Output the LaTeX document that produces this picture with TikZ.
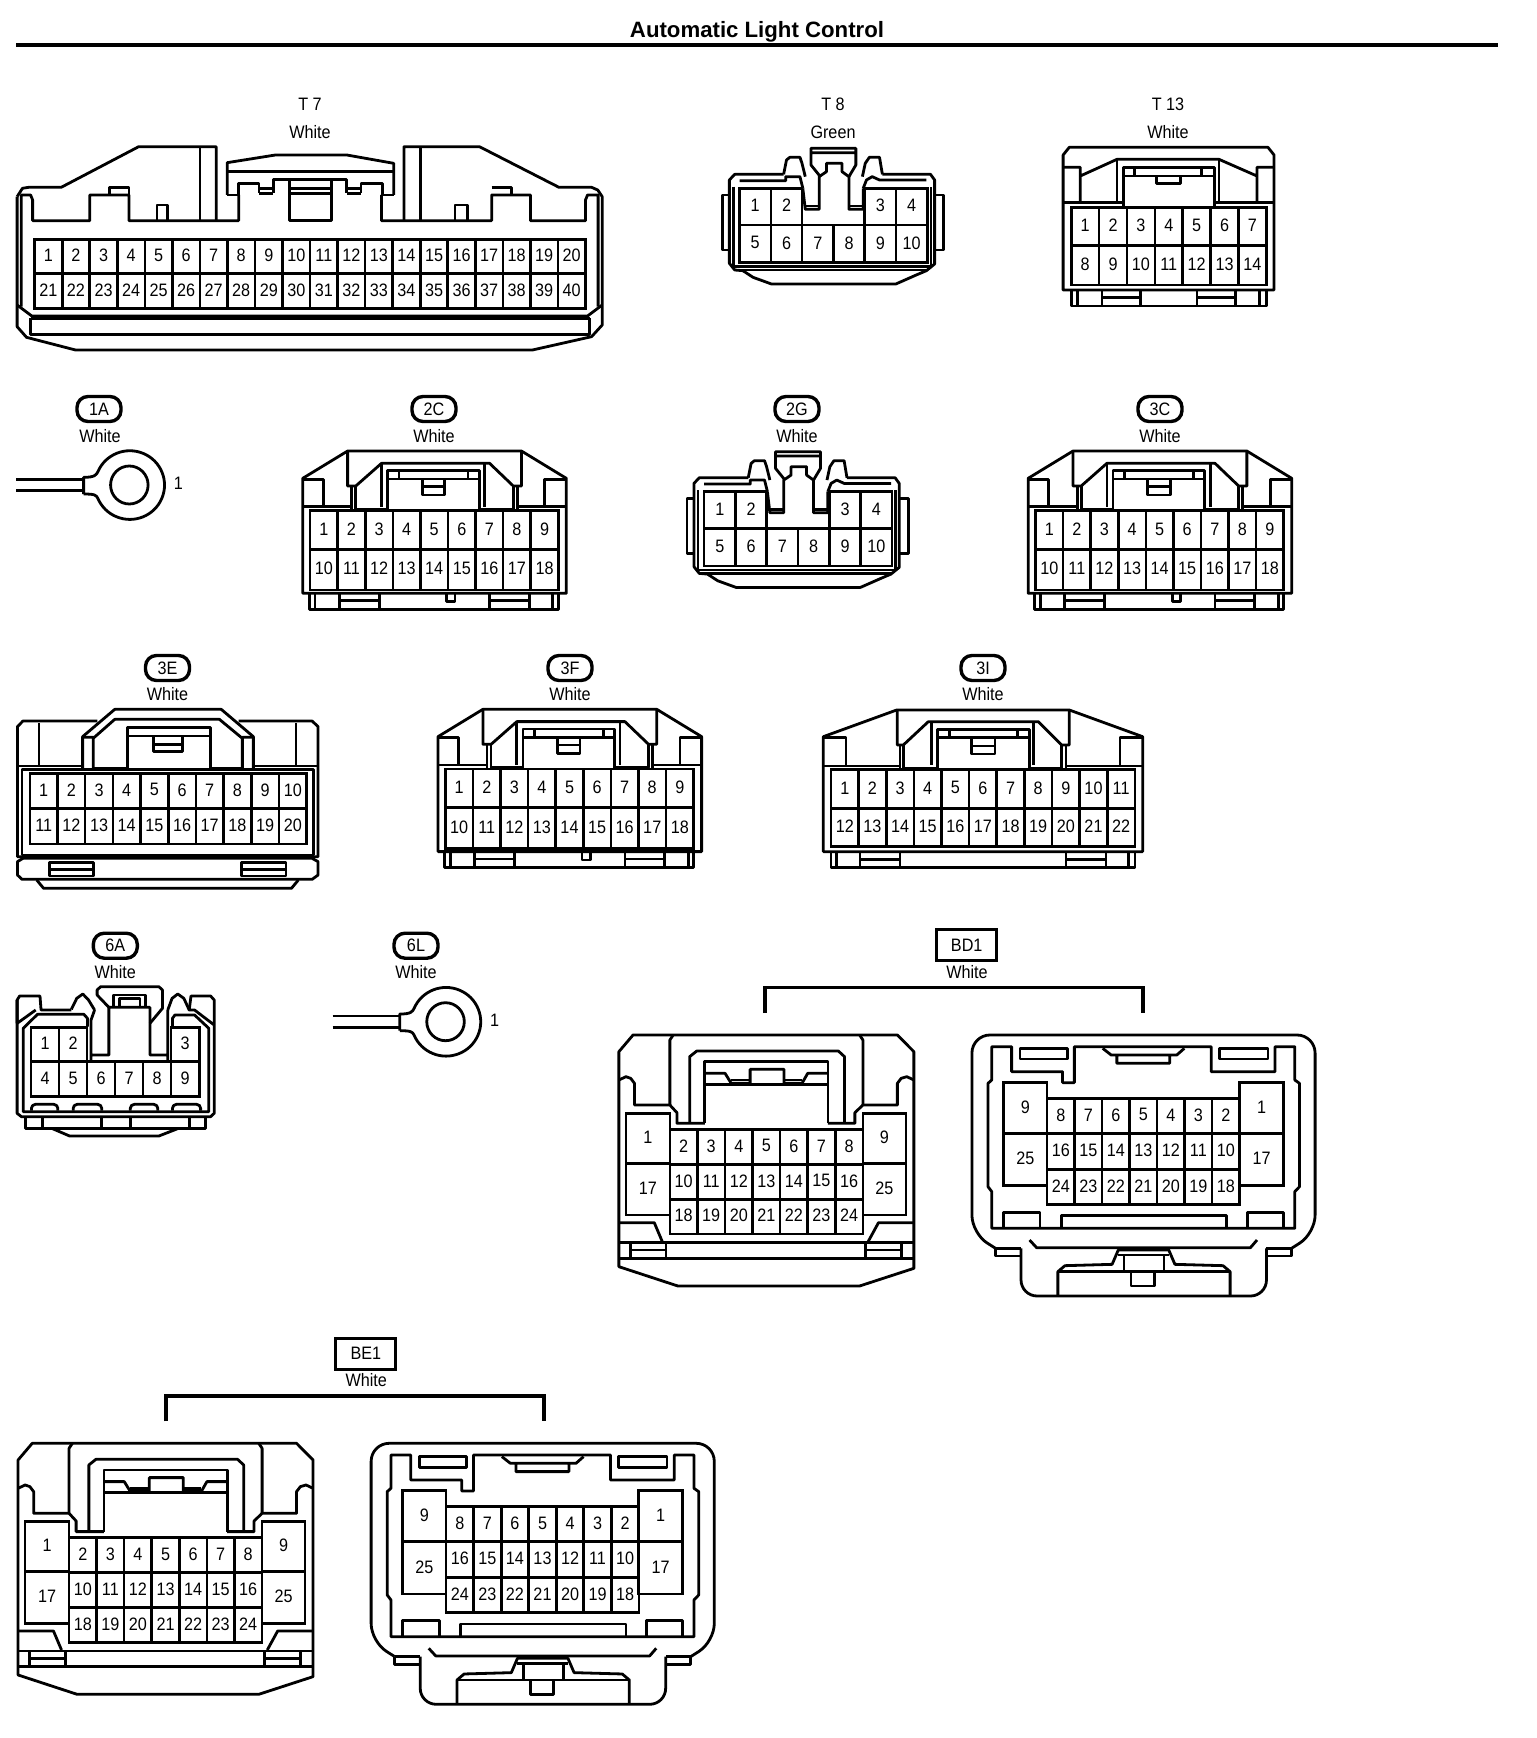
\documentclass[tikz,border=0pt]{standalone}
\usepackage{fontspec}
\setmainfont{Liberation Sans}
\newfontfamily\pinfont[FakeStretch=0.9]{Liberation Sans}
\usetikzlibrary{positioning, calc}

\tikzset{
  wall/.style={line width=1.4pt, line join=round},
  cellwall/.style={line width=1.3pt},
  pinlabel/.style={font=\pinfont\fontsize{9pt}{10pt}\selectfont, inner sep=0pt, yshift=.5pt},
  colourlabel/.style={font=\pinfont\fontsize{9pt}{10pt}\selectfont, inner sep=0pt, yshift=.5pt},
  codebubble/.style={draw, line width=1.7pt, rounded corners=5.5pt, minimum width=22pt, minimum height=12.5pt, inner sep=0pt, font=\pinfont\fontsize{9pt}{10pt}\selectfont},
  codebox/.style={draw, line width=1.5pt, minimum width=30pt, minimum height=15.5pt, inner sep=0pt, font=\pinfont\fontsize{9pt}{10pt}\selectfont},
  crop/.style n args={3}{shift={(#1,#2)},xscale=#3,yscale=1/3}
}

% name, x0, dx, ytop, ybot, first col, last col, first number, number step
\newcommand{\pinrun}[9]{
  \foreach \c in {#6,...,#7} {
    \pgfmathtruncatemacro{\pinnum}{#8+#9*(\c-#6)}
    \draw[cellwall] ({#2+\c*#3},#4) rectangle ({#2+(\c+1)*#3},#5);
    \node[pinlabel] (#1-\pinnum) at ({#2+(\c+.5)*#3},{(#4+#5)/2}) {\pinnum};
  }
}

% ring terminal
\newcommand{\ringlug}[1]{
  \begin{scope}[crop={0}{380}{.408}]
    \draw[wall] (40,298) -- (205,298) (40,332) -- (205,332);
    \draw[wall] (205,342) -- (205,292) .. controls (232,292) and (236,285) .. (240,275)
      arc[start angle=203, end angle=517, x radius=85, y radius=103]
      .. controls (236,345) and (232,342) .. (205,342);
    \draw[wall] (317,315) circle[x radius=46, y radius=57];
    \node[pinlabel] (#1-1) at (437,313) {1};
  \end{scope}
}

% 18 way body
\newcommand{\bodyeighteen}[1]{
  \begin{scope}[crop={0}{380}{.408}]
    \draw[wall] (742,295) -- (852,213) -- (1278,213) -- (1388,295) -- (1388,640) -- (742,640) -- cycle;
    \draw[wall] (852,213) -- (852,318) -- (872,318) -- (935,250) -- (1200,250) -- (1258,318) -- (1278,318) -- (1278,213);
    \draw[wall] (950,388) -- (872,388) -- (872,318) (1175,388) -- (1258,388) -- (1258,318);
    \draw[wall] (862,318) -- (862,392) (1268,318) -- (1268,392);
    \draw[wall] (742,298) -- (792,298) -- (792,378) (1388,298) -- (1335,298) -- (1335,378);
    \draw[wall] (742,380) -- (862,380) (1268,380) -- (1388,380);
    \draw[wall] (935,250) -- (935,380) (1188,250) -- (1188,380);
    \draw[wall] (950,388) -- (950,272) -- (1175,272) -- (1175,388);
    \draw[wall] (950,297) -- (1175,297) (978,272) -- (978,297) (1147,272) -- (1147,297);
    \draw[wall] (1035,297) -- (1035,345) -- (1090,345) -- (1090,297) (1035,320) -- (1090,320);
    \pinrun{#1}{760}{67.6}{392}{508}{0}{8}{1}{1}
    \pinrun{#1}{760}{67.6}{508}{630}{0}{8}{10}{1}
    \draw[wall] (758,640) -- (758,688) -- (1368,688) -- (1368,640);
    \draw[wall] (772,640) -- (772,688) (1355,640) -- (1355,688);
    \draw[wall] (832,640) -- (832,688) (930,640) -- (930,688) (832,662) -- (930,662);
    \draw[wall] (1200,640) -- (1200,688) (1297,640) -- (1297,688) (1200,662) -- (1297,662);
    \draw[wall] (1095,640) -- (1095,665) -- (1115,665) -- (1115,640);
  \end{scope}
}

% 10 way body with centre latch
\newcommand{\bodyten}[1]{
  \begin{scope}[crop={700}{80}{.408}]
    \draw[wall] (205,283) -- (85,283) -- (72,300) -- (72,550) -- (85,570) -- (105,572) -- (130,592) -- (175,612) -- (480,612) -- (530,585) -- (555,572) -- (575,552) -- (575,300) -- (565,283) -- (447,283);
    \draw[wall] (205,283) -- (212,240) -- (220,232) -- (245,232) -- (250,250) -- (258,290);
    \draw[wall] (398,290) -- (405,250) -- (415,232) -- (440,232) -- (447,283);
    \draw[wall] (82,320) -- (82,560) -- (566,560) -- (566,320) (85,570) -- (555,570);
    \draw[wall] (97,302) -- (210,302) -- (210,290) -- (245,290) -- (252,325) (400,325) -- (408,300) -- (422,290) -- (440,300) -- (555,300);
    \draw[wall] (252,325) -- (258,388) -- (292,388) -- (292,290) -- (310,275) -- (310,250) -- (348,250) -- (348,275) -- (365,290) -- (365,388) -- (400,388) -- (400,325);
    \draw[wall] (258,378) -- (292,378) (365,378) -- (400,378);
    \draw[wall] (295,290) -- (272,255) -- (272,205) -- (382,205) -- (382,255) -- (365,290) (272,218) -- (382,218);
    \draw[wall] (72,345) -- (55,345) -- (55,510) -- (72,510) (578,345) -- (597,345) -- (597,510) -- (578,510);
    \pinrun{#1}{97}{76.7}{325}{435}{0}{1}{1}{1}
    \pinrun{#1}{97}{76.7}{325}{435}{4}{5}{3}{1}
    \pinrun{#1}{97}{76.7}{435}{548}{0}{5}{5}{1}
  \end{scope}
}

% two halves of a 25 way connector with their bracket
\newcommand{\bodypair}[3]{
  \begin{scope}[crop={600}{920}{.472}]
    \draw[wall] (40,395) -- (40,1040) -- (165,1098) -- (550,1098) -- (665,1045) -- (665,395) -- (630,345) -- (70,345) -- cycle;
    \draw[wall] (40,480) -- (55,470) -- (65,475) -- (73,490) -- (73,555) -- (148,555) -- (163,578) -- (163,610) -- (222,610);
    \draw[wall] (665,480) -- (650,470) -- (638,475) -- (630,490) -- (630,555) -- (557,555) -- (540,578) -- (540,610) -- (483,610);
    \draw[wall] (155,345) -- (148,360) -- (148,555) (550,345) -- (557,360) -- (557,555);
    \draw[wall] (190,610) -- (190,410) -- (205,393) -- (505,393) -- (518,410) -- (518,610);
    \draw[wall] (222,610) -- (222,425) -- (483,425) -- (483,610);
    \draw[wall] (222,460) -- (265,460) -- (278,490) -- (318,490) -- (318,448) -- (390,448) -- (390,490) -- (428,490) -- (440,460) -- (483,460);
    \draw[wall] (222,493) -- (483,493) (278,480) -- (318,480) (390,480) -- (428,480);
    \pinrun{#1a}{55}{93}{580}{730}{0}{0}{1}{1}
    \pinrun{#1a}{55}{93}{730}{885}{0}{0}{17}{1}
    \pinrun{#1a}{557}{91}{580}{730}{0}{0}{9}{1}
    \pinrun{#1a}{557}{91}{730}{885}{0}{0}{25}{1}
    \pinrun{#1a}{148}{58.4}{628}{733}{0}{6}{2}{1}
    \pinrun{#1a}{148}{58.4}{733}{838}{0}{6}{10}{1}
    \pinrun{#1a}{148}{58.4}{838}{942}{0}{6}{18}{1}
    \draw[wall] (40,908) -- (115,908) -- (132,965) (665,908) -- (590,908) -- (568,965);
    \draw[wall] (40,968) -- (665,968) (40,1015) -- (665,1015);
    \draw[wall] (65,968) -- (65,1015) (140,968) -- (140,1015) (65,990) -- (140,990);
    \draw[wall] (638,968) -- (638,1015) (562,968) -- (562,1015) (562,990) -- (638,990);
    % mating half
    \draw[wall, rounded corners=9pt] (838,985) -- (788,940) -- (788,345) -- (1515,345) -- (1515,940) -- (1465,985);
    \draw[wall] (838,985) -- (838,1008) -- (892,1008) (1465,985) -- (1465,1008) -- (1412,1008) (838,985) -- (892,985) (1465,985) -- (1412,985);
    \draw[wall, rounded corners=8pt] (892,985) -- (892,1128) -- (1412,1128) -- (1412,985);
    \draw[wall] (830,925) -- (830,815) -- (822,800) -- (822,490) -- (830,480) -- (830,380) -- (872,380) -- (872,455) -- (980,455) -- (980,488) -- (1005,488) -- (1005,380) -- (1295,380) -- (1295,455) -- (1430,455) -- (1430,380) -- (1472,380) -- (1472,480) -- (1482,490) -- (1482,800) -- (1472,815) -- (1472,925) -- cycle;
    \draw[wall] (890,385) rectangle (990,417) (1312,385) rectangle (1415,417);
    \draw[wall] (1065,385) -- (1083,405) -- (1222,405) -- (1238,385) (1095,405) -- (1095,430) -- (1207,430) -- (1207,405);
    \pinrun{#1b}{855}{92}{487}{640}{0}{0}{9}{1}
    \pinrun{#1b}{855}{92}{640}{797}{0}{0}{25}{1}
    \pinrun{#1b}{1355}{93}{487}{640}{0}{0}{1}{1}
    \pinrun{#1b}{1355}{93}{640}{797}{0}{0}{17}{1}
    \pinrun{#1b}{947}{58.3}{535}{640}{0}{6}{8}{-1}
    \pinrun{#1b}{947}{58.3}{640}{748}{0}{6}{16}{-1}
    \pinrun{#1b}{947}{58.3}{748}{853}{0}{6}{24}{-1}
    \draw[wall] (855,925) -- (855,877) -- (932,877) -- (932,925) (1372,925) -- (1372,877) -- (1448,877) -- (1448,925);
    \draw[wall] (977,925) -- (977,887) -- (1328,887) -- (1328,925);
    \draw[wall] (910,960) -- (925,983) -- (1378,983) -- (1392,960);
    \draw[wall] (970,1128) -- (970,1055) -- (985,1037) -- (1085,1033) -- (1098,990) -- (1205,990) -- (1218,1033) -- (1320,1037) -- (1335,1055) -- (1335,1128);
    \draw[wall] (970,1055) -- (1335,1055) (1098,1005) -- (1205,1005) (1110,1005) -- (1110,1055) (1195,1005) -- (1195,1055);
    \draw[wall] (1125,1055) -- (1125,1098) -- (1175,1098) -- (1175,1055);
  \end{scope}
  \node[codebox] (#1) at (966.7,945.3) {#2};
  \node[colourlabel] (#1-colour) at (967,973) {White};
  \coordinate (#1-left) at (765+#3,1013);
  \coordinate (#1-right) at (1143+#3,1013);
  \draw[line width=1.7pt] (#1-left) -- ++(0,-25.3) -| (#1-right);
}

\begin{document}
\begin{tikzpicture}[x=0.5pt,y=-0.5pt]
  \useasboundingbox (0,0) rectangle (1536,1738);
  \node[font=\bfseries\fontsize{11.1pt}{12pt}\selectfont, inner sep=0pt] (title) at (757,32) {Automatic Light Control};
  \coordinate (rule-left) at (16,45);
  \coordinate (rule-right) at (1498,45);
  \draw[line width=1.8pt] (rule-left) -- (rule-right);

  % T 7
  \node[colourlabel] (T7-code) at (310,105) {T 7};
  \node[colourlabel] (T7-colour) at (310,133) {White};
  \begin{scope}[crop={0}{0}{.408}]
    \draw[wall] (42,590) -- (42,980) -- (65,1012) -- (185,1050) -- (1305,1050) -- (1450,1010) -- (1476,975) -- (1476,590) -- (1465,570) -- (1450,562) -- (1370,562) -- (1175,440) -- (990,440) -- (990,662);
    \draw[wall] (42,590) -- (55,565) -- (70,562) -- (150,562) -- (340,440) -- (530,440) -- (530,662);
    \draw[wall] (52,920) -- (52,585) -- (75,585) -- (80,600) -- (80,662) -- (220,662) -- (220,585) -- (316,585) -- (316,662) -- (585,662) -- (585,585);
    \draw[wall] (1466,920) -- (1466,585) -- (1440,585) -- (1435,600) -- (1435,662) -- (1300,662) -- (1300,585) -- (1205,585) -- (1205,662) -- (935,662) -- (935,585);
    \draw[wall] (268,585) -- (268,562) -- (316,562) -- (316,585) (1205,562) -- (1253,562) -- (1253,585);
    \draw[wall] (385,662) -- (385,615) -- (410,615) -- (410,662) (1115,662) -- (1115,615) -- (1145,615) -- (1145,662);
    \draw[wall] (490,440) -- (490,662) (1030,440) -- (1030,662);
    \draw[wall] (557,585) -- (557,488) -- (675,465) -- (850,465) -- (965,490) -- (965,585);
    \draw[wall] (557,515) -- (965,515) (557,585) -- (585,585) (935,585) -- (965,585);
    \draw[wall] (585,585) -- (585,550) -- (635,550) -- (635,580) (635,565) -- (670,565) (635,580) -- (670,580);
    \draw[wall] (670,580) -- (670,538) -- (850,538) -- (850,580);
    \draw[wall] (710,538) -- (710,662) -- (812,662) -- (812,538) (710,565) -- (812,565) (710,580) -- (812,580);
    \draw[wall] (850,565) -- (885,565) (850,580) -- (885,580) (885,580) -- (885,550) -- (937,550) -- (937,585);
    \pinrun{T7}{85}{67.5}{718}{820}{0}{19}{1}{1}
    \pinrun{T7}{85}{67.5}{820}{925}{0}{19}{21}{1}
    \draw[wall] (42,915) -- (78,948) -- (1440,948) -- (1476,915);
    \draw[wall] (75,955) -- (75,1003) -- (1445,1003) -- (1445,955) (75,955) -- (1445,955);
  \end{scope}

  % T 8
  \node[colourlabel] (T8-code) at (833,105) {T 8};
  \node[colourlabel] (T8-colour) at (833,133) {Green};
  \bodyten{T8}

  % T 13
  \node[colourlabel] (T13-code) at (1168,105) {T 13};
  \node[colourlabel] (T13-colour) at (1168,133) {White};
  \begin{scope}[crop={700}{80}{.408}]
    \draw[wall] (890,630) -- (890,225) -- (905,202) -- (1392,202) -- (1407,225) -- (1407,630) -- cycle;
    \draw[wall] (890,262) -- (932,262) -- (932,368) (932,288) -- (1022,238) -- (1272,238) -- (1365,288) (1407,262) -- (1365,262) -- (1365,368);
    \draw[wall] (1022,238) -- (1022,368) (1272,238) -- (1272,368) (890,368) -- (1037,368) (1260,368) -- (1407,368);
    \draw[wall] (1037,382) -- (1037,262) -- (1260,262) -- (1260,382) (1037,288) -- (1260,288);
    \draw[wall] (1065,262) -- (1065,288) (1230,262) -- (1230,288) (1118,288) -- (1118,310) -- (1178,310) -- (1178,288);
    \pinrun{T13}{910}{68.3}{382}{497}{0}{6}{1}{1}
    \pinrun{T13}{910}{68.3}{497}{615}{0}{6}{8}{1}
    \draw[wall] (910,630) -- (910,678) -- (1388,678) -- (1388,630) (925,630) -- (925,678) (1372,630) -- (1372,678);
    \draw[wall] (985,630) -- (985,678) (1080,630) -- (1080,678) (985,652) -- (1080,652);
    \draw[wall] (1218,630) -- (1218,678) (1312,630) -- (1312,678) (1218,652) -- (1312,652);
  \end{scope}

  % 1A
  \node[codebubble] (c1A) at (99,409) {1A};
  \node[colourlabel] (c1A-colour) at (100,437) {White};
  \ringlug{c1A}

  % 2C
  \node[codebubble] (c2C) at (434,409) {2C};
  \node[colourlabel] (c2C-colour) at (434,437) {White};
  \bodyeighteen{c2C}

  % 2G
  \node[codebubble] (c2G) at (797,409) {2G};
  \node[colourlabel] (c2G-colour) at (797,437) {White};
  \begin{scope}[shift={(-35.4,303.4)}]
    \bodyten{c2G}
  \end{scope}

  % 3C
  \node[codebubble] (c3C) at (1160,409) {3C};
  \node[colourlabel] (c3C-colour) at (1160,437) {White};
  \begin{scope}[shift={(725.4,0)}]
    \bodyeighteen{c3C}
  \end{scope}

  % 3E
  \node[codebubble] (c3E) at (167.5,668) {3E};
  \node[colourlabel] (c3E-colour) at (167.5,695) {White};
  \begin{scope}[crop={0}{640}{.459}]
    \draw[wall] (212,243) -- (50,243) -- (38,260) -- (38,650) -- (693,650) -- (693,260) -- (680,243) -- (520,243);
    \draw[wall] (38,665) -- (50,655) -- (680,655) -- (693,665) -- (693,705) -- (680,718) -- (48,718) -- (38,705) -- cycle;
    \draw[wall] (80,720) -- (95,745) -- (635,745) -- (650,720);
    \draw[wall] (180,385) -- (180,290) -- (250,208) -- (482,208) -- (552,290) -- (552,385);
    \draw[wall] (203,385) -- (203,295) -- (250,238) -- (478,238) -- (528,295) -- (528,385) (180,292) -- (203,292) (528,292) -- (552,292);
    \draw[wall] (278,385) -- (278,262) -- (458,262) -- (458,385) (278,288) -- (458,288);
    \draw[wall] (335,290) -- (335,335) -- (397,335) -- (397,290) (335,313) -- (397,313);
    \draw[wall] (85,250) -- (85,375) (645,250) -- (645,375) (38,378) -- (180,378) (552,378) -- (693,378) (203,385) -- (278,385) (458,385) -- (528,385);
    \draw[wall] (48,388) rectangle (683,645);
    \pinrun{c3E}{65}{60.3}{400}{505}{0}{9}{1}{1}
    \pinrun{c3E}{65}{60.3}{505}{612}{0}{9}{11}{1}
    \draw[wall] (108,668) rectangle (203,708) (108,688) -- (203,688) (527,668) rectangle (623,708) (527,688) -- (623,688);
  \end{scope}

  % 3F
  \node[codebubble] (c3F) at (570,668) {3F};
  \node[colourlabel] (c3F-colour) at (570,695) {White};
  \begin{scope}[shift={(135.3,258.3)}]
    \bodyeighteen{c3F}
  \end{scope}

  % 3I
  \node[codebubble] (c3I) at (983,668) {3I};
  \node[colourlabel] (c3I-colour) at (983,695) {White};
  \begin{scope}[crop={820}{660}{.3333}]
    \draw[wall] (10,230) -- (230,150) -- (748,150) -- (968,230) -- (968,575) -- (10,575) -- cycle;
    \draw[wall] (10,232) -- (78,232) -- (78,315) (968,232) -- (900,232) -- (900,315);
    \draw[wall] (232,150) -- (232,255) -- (250,255) -- (325,185) -- (655,185) -- (725,255) -- (748,255) -- (748,150);
    \draw[wall] (352,325) -- (250,325) -- (250,255) (628,325) -- (725,325) -- (725,255);
    \draw[wall] (240,255) -- (240,330) (738,255) -- (738,330) (10,318) -- (240,318) (738,318) -- (968,318);
    \draw[wall] (335,185) -- (335,315) (640,185) -- (640,315);
    \draw[wall] (352,325) -- (352,208) -- (628,208) -- (628,325) (352,232) -- (628,232);
    \draw[wall] (388,208) -- (388,232) (592,208) -- (592,232);
    \draw[wall] (455,232) -- (455,282) -- (525,282) -- (525,232) (455,258) -- (525,258);
    \pinrun{c3I}{33}{82.9}{328}{445}{0}{10}{1}{1}
    \pinrun{c3I}{33}{82.9}{445}{560}{0}{10}{12}{1}
    \draw[wall] (33,575) -- (33,622) -- (945,622) -- (945,575) (50,575) -- (50,622) (925,575) -- (925,622);
    \draw[wall] (120,575) -- (120,622) (240,575) -- (240,622) (120,598) -- (240,598);
    \draw[wall] (738,575) -- (738,622) (858,575) -- (858,622) (738,598) -- (858,598);
  \end{scope}

  % 6A
  \node[codebubble] (c6A) at (115.3,945.7) {6A};
  \node[colourlabel] (c6A-colour) at (115.3,973) {White};
  \begin{scope}[crop={0}{920}{.357}]
    \draw[wall] (48,310) -- (48,240) -- (55,228) -- (112,228) -- (115,270) -- (200,270) (48,310) -- (100,270);
    \draw[wall] (48,240) -- (48,580) -- (60,590) -- (590,590) -- (600,580) -- (600,240) -- (590,228) -- (535,228) -- (530,270) -- (545,270) -- (600,315);
    \draw[wall] (245,320) -- (245,295) -- (235,283) -- (105,283) -- (65,325) -- (65,575) -- (585,575) -- (585,325) -- (545,285) -- (490,285) -- (483,295) -- (483,322);
    \draw[wall] (200,268) -- (215,235) -- (232,222) -- (248,240) -- (265,270) (470,270) -- (482,235) -- (498,222) -- (515,235) -- (530,270);
    \draw[wall] (305,262) -- (272,225) -- (272,210) -- (282,200) -- (445,200) -- (455,210) -- (455,265) -- (420,310);
    \draw[wall] (255,420) -- (255,405) -- (305,405) -- (305,262) -- (420,262) -- (420,405) -- (470,405) -- (470,420) (255,405) -- (255,300) -- (265,270) (470,405) -- (470,270);
    \draw[wall] (318,262) -- (318,225) -- (408,225) -- (408,262) (335,262) -- (335,235) -- (392,235) -- (392,262);
    \pinrun{c6A}{87}{78.5}{322}{425}{0}{1}{1}{1}
    \pinrun{c6A}{87}{78.5}{322}{425}{5}{5}{3}{1}
    \pinrun{c6A}{87}{78.5}{425}{530}{0}{5}{4}{1}
    \draw[wall, rounded corners=2pt] (88,572) -- (88,553) -- (162,553) -- (162,572) (205,572) -- (205,553) -- (285,553) -- (285,572) (365,572) -- (365,553) -- (442,553) -- (442,572) (483,572) -- (483,553) -- (562,553) -- (562,572);
    \draw[wall] (72,595) -- (72,625) -- (575,625) -- (575,595) (118,595) -- (118,625) (285,595) -- (285,625) (365,595) -- (365,625) (530,595) -- (530,625);
    \draw[wall] (145,625) -- (195,648) -- (445,648) -- (500,625);
  \end{scope}

  % 6L
  \node[codebubble] (c6L) at (416,945.7) {6L};
  \node[colourlabel] (c6L-colour) at (416,973) {White};
  \begin{scope}[shift={(316.2,536.7)}]
    \ringlug{c6L}
  \end{scope}

  % BD1, BE1
  \bodypair{BD1}{BD1}{0}
  \begin{scope}[shift={(-600.8,408.3)}]
    \bodypair{BE1}{BE1}{1.6}
  \end{scope}
\end{tikzpicture}
\end{document}
